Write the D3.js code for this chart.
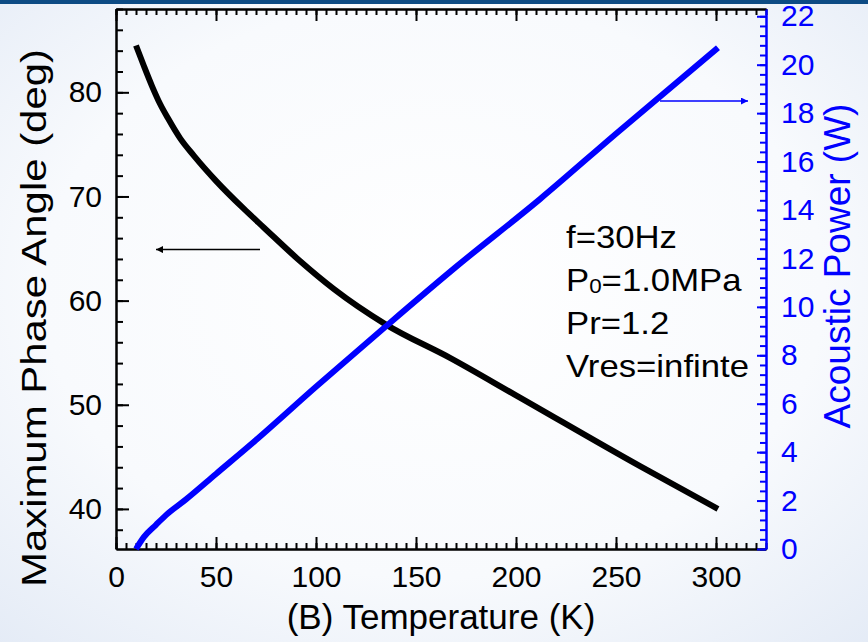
<!DOCTYPE html>
<html>
<head>
<meta charset="utf-8">
<script src="https://cdn.jsdelivr.net/npm/d3@7"></script>
<style>
  body { margin: 0; }
  svg { display: block; font-family: "Liberation Sans", Arial, sans-serif; }
  .axis path, .axis line { stroke-width: 2px; }
</style>
</head>
<body>
<svg></svg>
<script>
// phase angle curve (left axis)
var phaseT = [10, 14, 18, 22, 26, 32, 39, 50, 64, 74, 92, 109, 135, 167, 200, 262, 301]
var phaseDeg = [84.5, 82.5, 80.6, 78.9, 77.5, 75.6, 73.9, 71.5, 68.8, 67.0, 63.8, 61.1, 57.7, 54.5, 50.9, 44.1, 40.0]

// acoustic power line (right axis)
var powerT = [10, 14, 20, 25, 35, 50, 70, 100, 135, 170, 212, 250, 301]
var powerW = [0, 0.5, 1.0, 1.4, 2.05, 3.1, 4.5, 6.7, 9.2, 11.65, 14.45, 17.15, 20.7]

var xTicks = [0, 50, 100, 150, 200, 250, 300]
var leftTicks = [40, 50, 60, 70, 80]
var rightTicks = [0, 2, 4, 6, 8, 10, 12, 14, 16, 18, 20, 22]

var notes = ["f=30Hz", "P|0|=1.0MPa", "Pr=1.2", "Vres=infinte"]

// arrows: [x1, x2, y] in data units
var phaseArrow = [72, 20, 64.9]
var powerArrow = [272, 316, 18.5]

var screen = {width: 868, height: 642}
var margins = {top: 9, right: 102, bottom: 93, left: 116}

var svg = d3.select("svg")
    .attr("width", screen.width)
    .attr("height", screen.height)

// slide-like background
var defs = svg.append("defs")
var bg = defs.append("radialGradient")
    .attr("id", "bg")
    .attr("cx", "50%").attr("cy", "45%").attr("r", "75%")
bg.append("stop").attr("offset", "0%").attr("stop-color", "#ffffff")
bg.append("stop").attr("offset", "60%").attr("stop-color", "#f8fafd")
bg.append("stop").attr("offset", "100%").attr("stop-color", "#e4ebf6")

var mk = function(id, col){
    defs.append("marker")
        .attr("id", id)
        .attr("viewBox", "0 0 10 10")
        .attr("refX", 10).attr("refY", 5)
        .attr("markerWidth", 11).attr("markerHeight", 7)
        .attr("markerUnits", "userSpaceOnUse")
        .attr("orient", "auto")
        .append("path")
        .attr("d", "M0,0L10,5L0,10Z")
        .attr("fill", col)
}
mk("headK", "black")
mk("headB", "blue")

svg.append("rect")
    .attr("width", screen.width).attr("height", screen.height)
    .attr("fill", "url(#bg)")
svg.append("rect")
    .attr("width", screen.width).attr("height", 4)
    .attr("fill", "#0d4b84")

var width = screen.width - margins.left - margins.right
var height = screen.height - margins.top - margins.bottom

var xScale = d3.scaleLinear()
    .domain([0, 325])
    .range([margins.left, margins.left + width])

var yLeft = d3.scaleLinear()
    .domain([36.15, 88])
    .range([margins.top + height, margins.top])

var yRight = d3.scaleLinear()
    .domain([0, 22.3])
    .range([margins.top + height, margins.top])

var axes = svg.append("g").classed("axis", true)

var bottomY = margins.top + height
var rightX = margins.left + width

// minor ticks first
axes.append("g")
    .attr("transform", "translate(0," + bottomY + ")")
    .call(d3.axisBottom(xScale).tickValues(d3.range(0, 326, 5)).tickSize(-6).tickSizeOuter(0).tickFormat(""))
axes.append("g")
    .attr("transform", "translate(0," + margins.top + ")")
    .call(d3.axisTop(xScale).tickValues(d3.range(0, 326, 5)).tickSize(-6).tickSizeOuter(0).tickFormat(""))
axes.append("g")
    .attr("transform", "translate(" + margins.left + ",0)")
    .call(d3.axisLeft(yLeft).tickValues(d3.range(38, 89, 2)).tickSize(-7).tickSizeOuter(0).tickFormat(""))
axes.append("g")
    .attr("class", "blue")
    .attr("transform", "translate(" + rightX + ",0)")
    .call(d3.axisRight(yRight).tickValues(d3.range(0, 22.21, 0.4)).tickSize(-6).tickSizeOuter(0).tickFormat(""))

// major ticks + labels
axes.append("g")
    .attr("transform", "translate(0," + bottomY + ")")
    .call(d3.axisBottom(xScale).tickValues(xTicks).tickSize(-12).tickSizeOuter(0).tickPadding(17))
axes.append("g")
    .attr("transform", "translate(0," + margins.top + ")")
    .call(d3.axisTop(xScale).tickValues(xTicks).tickSize(-12).tickSizeOuter(0).tickFormat(""))
axes.append("g")
    .attr("transform", "translate(" + margins.left + ",0)")
    .call(d3.axisLeft(yLeft).tickValues(leftTicks).tickSize(-13).tickSizeOuter(0).tickPadding(14))
axes.append("g")
    .attr("class", "blue")
    .attr("transform", "translate(" + rightX + ",0)")
    .call(d3.axisRight(yRight).tickValues(rightTicks).tickSize(-9).tickSizeOuter(0).tickPadding(15))

axes.selectAll("g").attr("font-size", 30).attr("font-family", "Liberation Sans, Arial, sans-serif")
axes.selectAll("text").attr("fill", "black")
axes.selectAll(".blue line, .blue path").attr("stroke", "blue")
axes.selectAll(".blue text").attr("fill", "blue")

// axis titles
svg.append("text")
    .attr("transform", "translate(46,318) rotate(-90)")
    .attr("text-anchor", "middle")
    .attr("textLength", 538)
    .attr("lengthAdjust", "spacingAndGlyphs")
    .style("font-size", "35px")
    .text("Maximum Phase Angle (deg)")

svg.append("text")
    .attr("transform", "translate(850,266) rotate(-90)")
    .attr("text-anchor", "middle")
    .attr("fill", "blue")
    .style("font-size", "37px")
    .text("Acoustic Power (W)")

svg.append("text")
    .attr("x", xScale(162.5))
    .attr("y", 629)
    .attr("text-anchor", "middle")
    .style("font-size", "35px")
    .text("(B) Temperature (K)")

// curves
var lineGenerator = d3.line().curve(d3.curveMonotoneX)

svg.append("path")
    .datum(phaseT.map(function(t, i){ return [xScale(t), yLeft(phaseDeg[i])] }))
    .attr("d", lineGenerator)
    .attr("fill", "none")
    .attr("stroke", "black")
    .attr("stroke-width", 6)

svg.append("path")
    .datum(powerT.map(function(t, i){ return [xScale(t), yRight(powerW[i])] }))
    .attr("d", lineGenerator)
    .attr("fill", "none")
    .attr("stroke", "blue")
    .attr("stroke-width", 6)

// arrows
svg.append("line")
    .attr("x1", xScale(phaseArrow[0])).attr("x2", xScale(phaseArrow[1]))
    .attr("y1", yLeft(phaseArrow[2])).attr("y2", yLeft(phaseArrow[2]))
    .attr("stroke", "black").attr("stroke-width", 1.5)
    .attr("marker-end", "url(#headK)")

svg.append("line")
    .attr("x1", xScale(powerArrow[0])).attr("x2", xScale(powerArrow[1]))
    .attr("y1", yRight(powerArrow[2])).attr("y2", yRight(powerArrow[2]))
    .attr("stroke", "blue").attr("stroke-width", 1.5)
    .attr("marker-end", "url(#headB)")

// parameter notes
var noteG = svg.append("g")
    .attr("transform", "translate(" + xScale(225) + "," + yLeft(65.05) + ") scale(1.12,1)")
    .style("font-size", "31px")

noteG.selectAll("text")
    .data(notes)
    .enter()
    .append("text")
    .attr("x", 0)
    .attr("y", function(d, i){ return i * 43 })
    .each(function(d){
        var parts = d.split("|")
        var t = d3.select(this)
        t.append("tspan").text(parts[0])
        if (parts.length > 1) {
            t.append("tspan").style("font-size", "20px").attr("dy", 2).text(parts[1])
            t.append("tspan").attr("dy", -2).text(parts[2])
        }
    })
</script>
</body>
</html>
